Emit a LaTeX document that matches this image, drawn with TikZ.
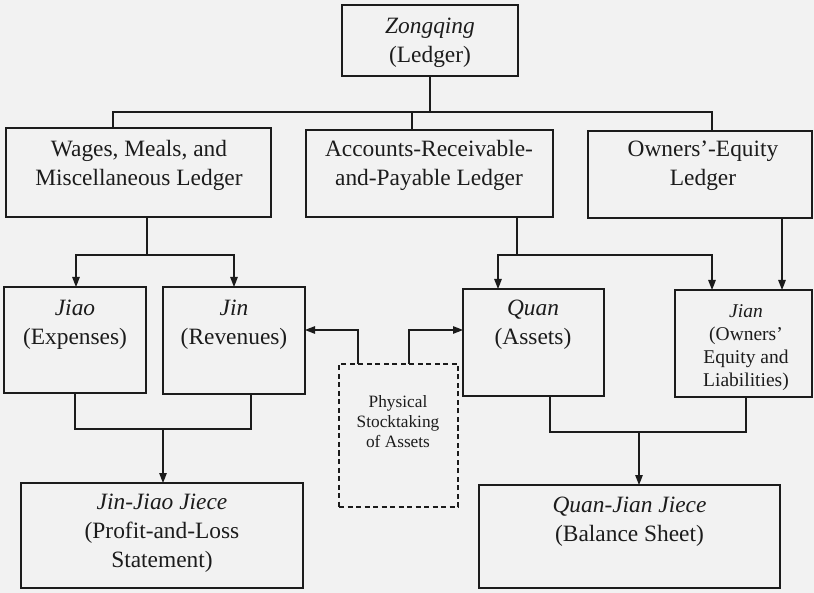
\documentclass[tikz,border=0pt]{standalone}
\usepackage{fontspec}
\setmainfont{Liberation Serif}
\usetikzlibrary{arrows.meta,fit}
\definecolor{bgc}{RGB}{242,242,242}
\definecolor{ink}{RGB}{28,28,28}
\begin{document}
\begin{tikzpicture}[x=1pt,y=-1pt,
  box/.style={draw=ink, line width=1.3pt, inner sep=0pt, outer sep=0pt},
  dbox/.style={draw=ink, line width=1.1pt, dash pattern=on 5pt off 3.5pt, inner sep=0pt, outer sep=0pt},
  txt/.style={text=ink, align=center, inner sep=0pt, font=\fontsize{23.4}{29}\selectfont},
  stxt/.style={text=ink, align=center, inner sep=0pt, font=\fontsize{19.5}{23}\selectfont},
  ptxt/.style={text=ink, align=center, inner sep=0pt, font=\fontsize{17.3}{20}\selectfont},
  conn/.style={draw=ink, line width=1.3pt},
  arr/.style={conn, -{Triangle[length=10pt,width=7.5pt]}},
]
\fill[bgc] (0,0) rectangle (814,593);
\useasboundingbox (0,0) rectangle (814,593);

% boxes
\node[box, fit={(342,5)(518,76)}] (zong) {};
\node[box, fit={(6,128)(271,217)}] (wages) {};
\node[box, fit={(306,130)(553,217)}] (acct) {};
\node[box, fit={(588,131)(812,218)}] (owners) {};
\node[box, fit={(4,287)(146,393)}] (jiao) {};
\node[box, fit={(163,287)(305,394)}] (jin) {};
\node[box, fit={(463,289)(604,396)}] (quan) {};
\node[box, fit={(675,290)(812,397)}] (jian) {};
\node[dbox, fit={(339,364)(458,507)}] (phys) {};
\node[box, fit={(21,483)(303,588)}] (jinjiao) {};
\node[box, fit={(479,485)(780,588)}] (quanjian) {};

% texts
\node[txt] (zongt) at (430,42.5) {\textit{Zongqing}\\(Ledger)};
\node[txt] (wagest) at (139,165.5) {Wages, Meals, and\\Miscellaneous Ledger};
\node[txt] (acctt) at (429,165.5) {Accounts-Receivable-\\and-Payable Ledger};
\node[txt] (ownerst) at (703,166) {Owners’-Equity\\Ledger};
\node[txt] (jiaot) at (75,324.5) {\textit{Jiao}\\(Expenses)};
\node[txt] (jint) at (234,324.5) {\textit{Jin}\\(Revenues)};
\node[txt] (quant) at (533,325) {\textit{Quan}\\(Assets)};
\node[stxt] (jiant) at (746,348) {\textit{Jian}\\(Owners’\\Equity and\\Liabilities)};
\node[ptxt] (physt) at (398,422) {Physical\\Stocktaking\\of Assets};
\node[txt] (jinjiaot) at (162,533) {\textit{Jin-Jiao Jiece}\\(Profit-and-Loss\\Statement)};
\node[txt] (quanjiant) at (629.5,521.5) {\textit{Quan-Jian Jiece}\\(Balance Sheet)};

% top bus
\coordinate (b1) at (113,112);
\coordinate (b2) at (412,112);
\coordinate (b3) at (712,112);
\draw[conn] (zong.south) -- (zong.south |- b1);
\draw[conn] (b1 |- wages.north) -- (b1) -- (b3) -- (b3 |- owners.north);
\draw[conn] (b2) -- (b2 |- acct.north);

% wages to jiao / jin
\coordinate (w1) at (147,255);
\coordinate (w2) at (76,255);
\coordinate (w3) at (234,255);
\draw[arr] (wages.south -| w1) -- (w1) -| (w2 |- jiao.north);
\draw[arr] (w1) -| (w3 |- jin.north);

% accounts to quan / jian
\coordinate (a1) at (517,255);
\coordinate (a2) at (498,255);
\coordinate (a3) at (712,255);
\draw[arr] (acct.south -| a1) -- (a1) -| (a2 |- quan.north);
\draw[arr] (a1) -| (a3 |- jian.north);

% owners to jian
\coordinate (o1) at (782,250);
\draw[arr] (owners.south -| o1) -- (o1 |- jian.north);

% physical stocktaking
\coordinate (p1) at (358,330);
\coordinate (p2) at (409,330);
\draw[arr] (phys.north -| p1) -- (p1) -- (p1 -| jin.east);
\draw[arr] (phys.north -| p2) -- (p2) -- (p2 -| quan.west);

% merges
\coordinate (m1) at (75,429);
\coordinate (m2) at (251,429);
\coordinate (m3) at (163,429);
\draw[conn] (jiao.south -| m1) -- (m1) -- (m2) -- (jin.south -| m2);
\draw[arr] (m3) -- (m3 |- jinjiao.north);
\coordinate (n1) at (550,432);
\coordinate (n2) at (746,432);
\coordinate (n3) at (639,432);
\draw[conn] (quan.south -| n1) -- (n1) -- (n2) -- (jian.south -| n2);
\draw[arr] (n3) -- (n3 |- quanjian.north);
\end{tikzpicture}
\end{document}
